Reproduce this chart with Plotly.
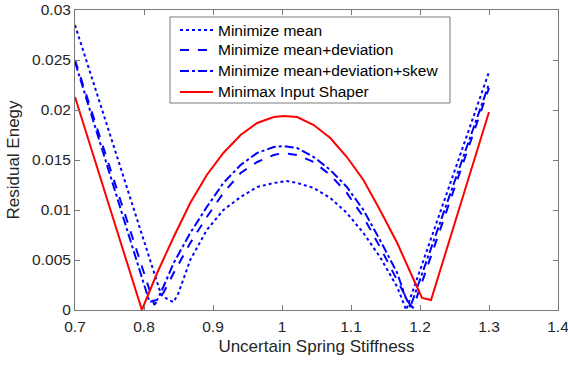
import plotly.graph_objects as go

# Minimize mean (dotted)
x_mean = [0.70, 0.825, 0.836, 0.843, 0.850, 0.867, 0.891, 0.915, 0.94, 0.964, 0.988, 1.007,
          1.022, 1.046, 1.07, 1.094, 1.118, 1.142, 1.167, 1.180, 1.30]
y_mean = [0.0285, 0.0015, 0.0010, 0.0008, 0.0017, 0.0050, 0.0080, 0.0100, 0.0113, 0.0123, 0.0127, 0.0129,
          0.0127, 0.0122, 0.0112, 0.0097, 0.0077, 0.0053, 0.0023, 0.0000, 0.0238]

# Minimize mean+deviation (dashed)
x_dev = [0.70, 0.815, 0.828, 0.843, 0.867, 0.891, 0.915, 0.94, 0.964, 0.988, 1.002,
         1.022, 1.046, 1.07, 1.094, 1.118, 1.142, 1.167, 1.184, 1.190, 1.30]
y_dev = [0.0250, 0.0005, 0.0017, 0.0037, 0.0067, 0.0093, 0.0117, 0.0137, 0.0148, 0.0155, 0.0157,
         0.0155, 0.0148, 0.0135, 0.0117, 0.0093, 0.0063, 0.0030, 0.0007, 0.0002, 0.0222]

# Minimize mean+deviation+skew (dash-dot)
x_skew = [0.70, 0.808, 0.819, 0.828, 0.843, 0.867, 0.891, 0.915, 0.94, 0.964, 0.988, 1.002,
          1.022, 1.046, 1.07, 1.094, 1.118, 1.142, 1.167, 1.179, 1.186, 1.30]
y_skew = [0.0248, 0.0008, 0.0010, 0.0023, 0.0047, 0.0077, 0.0103, 0.0127, 0.0145, 0.0157, 0.0163, 0.0164,
          0.0162, 0.0153, 0.0140, 0.0123, 0.0100, 0.0070, 0.0037, 0.0013, 0.0003, 0.0226]

# Minimax Input Shaper (solid red)
x_minimax = [0.70, 0.797, 0.819, 0.843, 0.867, 0.891, 0.915, 0.94, 0.964, 0.988, 1.002,
             1.022, 1.046, 1.07, 1.094, 1.118, 1.142, 1.167, 1.191, 1.203, 1.216, 1.30]
y_minimax = [0.0213, 0.0000, 0.0037, 0.0073, 0.0107, 0.0135, 0.0157, 0.0175, 0.0187, 0.0193, 0.0194,
             0.0193, 0.0185, 0.0172, 0.0153, 0.0130, 0.0100, 0.0067, 0.0030, 0.0012, 0.0010, 0.0198]

series_names = ["Minimize mean", "Minimize mean+deviation",
                "Minimize mean+deviation+skew", "Minimax Input Shaper"]

x_ticks = [0.7, 0.8, 0.9, 1.0, 1.1, 1.2, 1.3, 1.4]
y_ticks = [0, 0.005, 0.01, 0.015, 0.02, 0.025, 0.03]

FONT = "Liberation Sans, Arial, sans-serif"
TXT = "#262626"
AX = "#7a7a7a"

styles = [
    dict(color="#0000FF", width=2, dash="dot"),
    dict(color="#0000FF", width=2, dash="dash"),
    dict(color="#0000FF", width=2, dash="dashdot"),
    dict(color="#FF0000", width=2, dash="solid"),
]
data = [(x_mean, y_mean), (x_dev, y_dev), (x_skew, y_skew), (x_minimax, y_minimax)]

fig = go.Figure()
for (xs, ys), name, st in zip(data, series_names, styles):
    fig.add_trace(go.Scatter(x=xs, y=ys, mode="lines", name=name, line=st, showlegend=False))

# Legend drawn in paper coordinates (box, line samples, labels)
box = dict(x0=0.1967, x1=0.7764, y0=0.690, y1=0.9767)
row_y = [0.9333, 0.8667, 0.7967, 0.7267]
sample_x0, sample_x1, text_x = 0.2174, 0.2857, 0.2919
shapes = [dict(type="rect", xref="paper", yref="paper", layer="above",
               fillcolor="white", line=dict(color=AX, width=1), **box)]
annotations = []
for yy, name, st in zip(row_y, series_names, styles):
    shapes.append(dict(type="line", xref="paper", yref="paper", layer="above",
                       x0=sample_x0, x1=sample_x1, y0=yy, y1=yy, line=st))
    annotations.append(dict(x=text_x, y=yy, xref="paper", yref="paper", text=name,
                            showarrow=False, xanchor="left", yanchor="middle",
                            font=dict(family=FONT, size=15.5, color="#000000")))

fig.update_layout(
    width=568, height=365,
    margin=dict(l=75, r=10, t=10, b=55),
    paper_bgcolor="white", plot_bgcolor="white",
    font=dict(family=FONT, color=TXT, size=15),
    showlegend=False,
    shapes=shapes,
    annotations=annotations,
    xaxis=dict(range=[0.7, 1.4], tickvals=x_ticks, ticks="inside", ticklen=5, tickcolor=AX,
               showline=True, linecolor=AX, linewidth=1, mirror="ticks", showgrid=False,
               zeroline=False, tickfont=dict(size=15.5, color=TXT), ticklabelstandoff=2,
               ticklabeloverflow="allow", automargin=False,
               title=dict(text="Uncertain Spring Stiffness", font=dict(size=17, color=TXT), standoff=6)),
    yaxis=dict(range=[0, 0.03], tickvals=y_ticks, ticks="inside", ticklen=5, tickcolor=AX,
               showline=True, linecolor=AX, linewidth=1, mirror="ticks", showgrid=False,
               zeroline=False, tickfont=dict(size=15.5, color=TXT), automargin=False,
               title=dict(text="Residual Enegy", font=dict(size=17, color=TXT), standoff=8)),
)

fig.write_html("out.html")
